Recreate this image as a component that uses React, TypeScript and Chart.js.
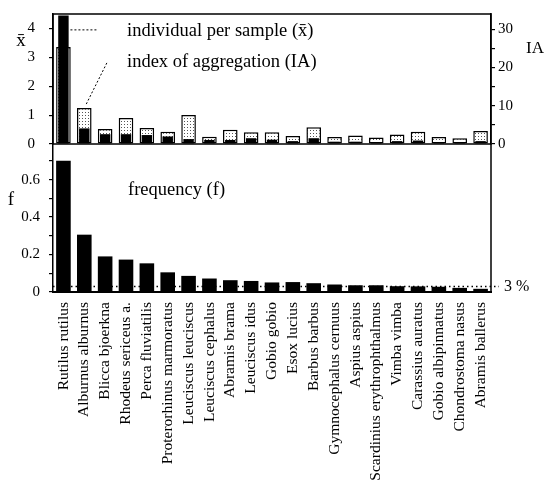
import React, { useEffect, useRef } from "react";
import { Chart, registerables } from "chart.js";

Chart.register(...registerables);

// ---------- data ----------
const categories: string[] = [
  "Rutilus rutilus",
  "Alburnus alburnus",
  "Blicca bjoerkna",
  "Rhodeus sericeus a.",
  "Perca fluviatilis",
  "Proterorhinus marmoratus",
  "Leuciscus leuciscus",
  "Leuciscus cephalus",
  "Abramis brama",
  "Leuciscus idus",
  "Gobio gobio",
  "Esox lucius",
  "Barbus barbus",
  "Gymnocephalus cernuus",
  "Aspius aspius",
  "Scardinius erythrophthalmus",
  "Vimba vimba",
  "Carassius auratus",
  "Gobio albipinnatus",
  "Chondrostoma nasus",
  "Abramis ballerus",
];

// individuals per sample (x̄), left axis of upper panel
const meanPerSample: number[] = [
  4.45, 0.54, 0.34, 0.34, 0.31, 0.26, 0.17, 0.14, 0.14, 0.2, 0.15,
  0.1, 0.2, 0.08, 0.08, 0.07, 0.1, 0.12, 0.07, 0.06, 0.1,
];

// index of aggregation (IA), right axis of upper panel
const aggregationIndex: number[] = [
  25.4, 9.4, 3.9, 6.8, 4.2, 3.2, 7.6, 1.9, 3.7, 3.1, 3.1,
  2.1, 4.4, 1.8, 2.2, 1.7, 2.5, 3.2, 1.8, 1.5, 3.4,
];

// frequency (f), lower panel
const frequency: number[] = [
  0.7, 0.306, 0.19, 0.173, 0.153, 0.105, 0.086, 0.072, 0.063, 0.059, 0.051,
  0.053, 0.047, 0.04, 0.036, 0.036, 0.031, 0.03, 0.028, 0.022, 0.017,
];

const thresholdFrequency = 0.03;
const thresholdLabel = "3 %";

const xbarMax = 4.5;
const iaMax = 34;
const fMax = 0.79;

// ---------- style ----------
const FONT = '"Liberation Serif", "Times New Roman", serif';
const BLACK = "#000";

function makeStipple(): CanvasPattern | string {
  const c = document.createElement("canvas");
  c.width = 3;
  c.height = 3;
  const g = c.getContext("2d");
  if (!g) return "#ddd";
  g.fillStyle = "#fff";
  g.fillRect(0, 0, 3, 3);
  g.fillStyle = "#555";
  g.fillRect(1, 1, 1, 1);
  return g.createPattern(c, "repeat") || "#ddd";
}

const LEFT_W = 53;
const RIGHT_W = 55;

function fixY(width: number) {
  return (s: any) => {
    s.width = width;
    s.paddingTop = 0;
    s.paddingBottom = 0;
  };
}

const topPlugin = {
  id: "topDecor",
  afterDraw(chart: any) {
    const { ctx, chartArea } = chart;
    const x = chart.scales.x;
    const y = chart.scales.y;
    const y1 = chart.scales.y1;
    ctx.save();
    // frame
    ctx.strokeStyle = BLACK;
    ctx.lineWidth = 1.5;
    ctx.setLineDash([]);
    ctx.strokeRect(chartArea.left, chartArea.top, chartArea.right - chartArea.left, chartArea.bottom - chartArea.top);

    // leader lines
    ctx.lineWidth = 1;
    ctx.setLineDash([2, 2]);
    const x0 = x.getPixelForValue(0);
    const yLead = y.getPixelForValue(3.95);
    ctx.beginPath();
    ctx.moveTo(x0 + 7, yLead);
    ctx.lineTo(x0 + 33, yLead);
    ctx.stroke();

    const x1 = x.getPixelForValue(1);
    const yTopIA = y1.getPixelForValue(aggregationIndex[1]);
    ctx.beginPath();
    ctx.moveTo(x1 + 2, yTopIA - 4);
    ctx.lineTo(x1 + 23, yTopIA - 46);
    ctx.stroke();
    ctx.setLineDash([]);

    // annotations
    ctx.fillStyle = BLACK;
    ctx.font = `18.5px ${FONT}`;
    ctx.textAlign = "left";
    ctx.textBaseline = "middle";
    ctx.fillText("individual per sample (x\u0304)", 127, 31);
    ctx.fillText("index of aggregation (IA)", 127, 62);

    // axis titles
    ctx.textAlign = "center";
    ctx.font = `19px ${FONT}`;
    ctx.fillText("x\u0304", 21, 41);
    ctx.font = `17px ${FONT}`;
    ctx.fillText("IA", 535, 49);
    ctx.restore();
  },
};

const bottomPlugin = {
  id: "bottomDecor",
  afterDraw(chart: any) {
    const { ctx, chartArea } = chart;
    const y = chart.scales.y;
    ctx.save();
    ctx.strokeStyle = BLACK;
    ctx.lineWidth = 1.5;
    ctx.beginPath();
    ctx.moveTo(chartArea.right, chartArea.top);
    ctx.lineTo(chartArea.right, chartArea.bottom);
    ctx.stroke();

    // threshold line
    const yt = y.getPixelForValue(thresholdFrequency);
    ctx.lineWidth = 1.5;
    ctx.setLineDash([1.5, 3]);
    ctx.beginPath();
    ctx.moveTo(chartArea.left, yt);
    ctx.lineTo(chartArea.right + 8, yt);
    ctx.stroke();
    ctx.setLineDash([]);

    ctx.fillStyle = BLACK;
    ctx.textBaseline = "middle";
    ctx.textAlign = "left";
    ctx.font = `16px ${FONT}`;
    ctx.fillText(thresholdLabel, chartArea.right + 13, yt);

    ctx.font = `18.5px ${FONT}`;
    ctx.fillText("frequency (f)", 128, 46);

    ctx.textAlign = "center";
    ctx.font = `19px ${FONT}`;
    ctx.fillText("f", 11, 56);
    ctx.restore();
  },
};

export default function App() {
  const topRef = useRef<HTMLCanvasElement>(null);
  const botRef = useRef<HTMLCanvasElement>(null);

  useEffect(() => {
    const stipple = makeStipple();
    const tickFont = { family: FONT, size: 15 };

    const topChart = new Chart(topRef.current as HTMLCanvasElement, {
      type: "bar",
      data: {
        labels: categories,
        datasets: [
          {
            label: "x\u0304",
            data: meanPerSample,
            yAxisID: "y",
            backgroundColor: BLACK,
            borderWidth: 0,
            barPercentage: 0.5,
            categoryPercentage: 1,
            grouped: false,
            order: 0,
          } as any,
          {
            label: "IA",
            data: aggregationIndex,
            yAxisID: "y1",
            backgroundColor: stipple as any,
            borderColor: BLACK,
            borderWidth: 1.5,
            borderSkipped: false,
            barPercentage: 0.7,
            categoryPercentage: 1,
            grouped: false,
            order: 1,
          } as any,
        ],
      },
      options: {
        animation: false,
        responsive: false,
        maintainAspectRatio: false,
        layout: { padding: { top: 14, bottom: 10, left: 0, right: 0 } },
        plugins: { legend: { display: false }, tooltip: { enabled: false } },
        scales: {
          x: { display: false, offset: true },
          y: {
            position: "left",
            min: 0,
            max: xbarMax,
            ticks: {
              stepSize: 0.5,
              includeBounds: false,
              color: BLACK,
              font: tickFont,
              padding: 14,
              callback: (v: any) => (Number.isInteger(Number(v)) ? String(v) : ""),
            },
            grid: { drawOnChartArea: false, drawTicks: true, tickLength: 4, color: BLACK, lineWidth: 1.2 },
            border: { display: true, color: BLACK, width: 1.5 },
            afterFit: fixY(LEFT_W),
          } as any,
          y1: {
            position: "right",
            min: 0,
            max: iaMax,
            ticks: {
              stepSize: 5,
              includeBounds: false,
              color: BLACK,
              font: tickFont,
              padding: 3,
              callback: (v: any) => (Number(v) % 10 === 0 ? String(v) : ""),
            },
            grid: { drawOnChartArea: false, drawTicks: true, tickLength: 4, color: BLACK, lineWidth: 1.2 },
            border: { display: true, color: BLACK, width: 1.5 },
            afterFit: fixY(RIGHT_W),
          } as any,
        },
      },
      plugins: [topPlugin],
    });

    const botChart = new Chart(botRef.current as HTMLCanvasElement, {
      type: "bar",
      data: {
        labels: categories,
        datasets: [
          {
            label: "f",
            data: frequency,
            backgroundColor: BLACK,
            borderWidth: 0,
            barPercentage: 0.7,
            categoryPercentage: 1,
          },
        ],
      },
      options: {
        animation: false,
        responsive: false,
        maintainAspectRatio: false,
        layout: { padding: { top: 0, bottom: 0, left: 0, right: RIGHT_W } },
        plugins: { legend: { display: false }, tooltip: { enabled: false } },
        scales: {
          x: {
            offset: true,
            ticks: {
              autoSkip: false,
              maxRotation: 90,
              minRotation: 90,
              color: BLACK,
              font: { family: FONT, size: 15.5 },
              padding: 10,
            },
            grid: { display: false, drawTicks: false },
            border: { display: true, color: BLACK, width: 2 },
            afterFit: (s: any) => {
              s.height = 191;
              s.paddingLeft = 0;
              s.paddingRight = 0;
            },
          } as any,
          y: {
            position: "left",
            min: 0,
            max: fMax,
            ticks: {
              stepSize: 0.1,
              includeBounds: false,
              color: BLACK,
              font: tickFont,
              padding: 9,
              callback: (v: any) => {
                const k = Math.round(Number(v) * 10);
                if (k % 2 !== 0) return "";
                return k === 0 ? "0" : (k / 10).toFixed(1);
              },
            },
            grid: { drawOnChartArea: false, drawTicks: true, tickLength: 4, color: BLACK, lineWidth: 1.2 },
            border: { display: true, color: BLACK, width: 1.5 },
            afterFit: fixY(LEFT_W),
          } as any,
        },
      },
      plugins: [bottomPlugin],
    });

    return () => {
      topChart.destroy();
      botChart.destroy();
    };
  }, []);

  return (
    <div style={{ position: "absolute", left: 0, top: 0, width: 546, height: 483, background: "#fff" }}>
      <canvas ref={topRef} width={546} height={154} style={{ position: "absolute", left: 0, top: 0 }} />
      <canvas ref={botRef} width={546} height={339} style={{ position: "absolute", left: 0, top: 144 }} />
    </div>
  );
}
